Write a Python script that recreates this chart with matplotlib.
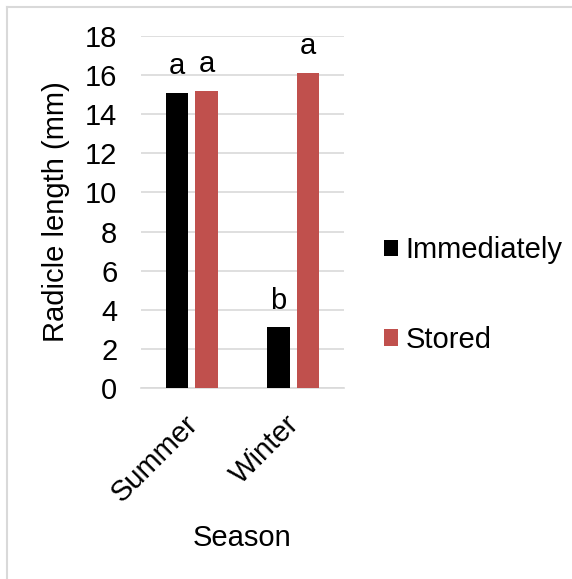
import matplotlib
matplotlib.use("Agg")
import matplotlib.pyplot as plt
import matplotlib.transforms as mtransforms
import numpy as np
from matplotlib.patches import Patch
from matplotlib.lines import Line2D

plt.rcParams['font.family'] = ['Liberation Sans', 'DejaVu Sans']

seasons = ["Summer", "Winter"]
series = ["Immediately", "Stored"]
immediately = [15.1, 3.1]
stored = [15.2, 16.1]
letters_immediately = ["a", "b"]
letters_stored = ["a", "a"]
colors = ["#000000", "#c0504d"]
yticks = [0, 2, 4, 6, 8, 10, 12, 14, 16, 18]

W, H = 572, 579
fig = plt.figure(figsize=(W / 100, H / 100), dpi=100)
ax = fig.add_axes([141 / W, 1 - 388 / H, (344 - 141) / W, (388 - 36) / H])

x = np.arange(len(seasons))
offset = 0.145
width = 0.22
fs = 21

for vals, letters, col, sign, name in [
    (immediately, letters_immediately, colors[0], -1, series[0]),
    (stored, letters_stored, colors[1], 1, series[1]),
]:
    bars = ax.bar(x + sign * offset, vals, width, color=col, label=name, zorder=3)
    for b, v, t in zip(bars, vals, letters):
        ax.annotate(t, (b.get_x() + b.get_width() / 2, v), xytext=(0, 13.5),
                    textcoords="offset points", ha="center", va="baseline",
                    fontsize=fs, color="black")

ax.set_xlim(-0.5, 1.5)
ax.set_ylim(0, 18)
ax.set_yticks(yticks)
ax.set_yticklabels([str(v) for v in yticks], fontsize=fs)
ax.yaxis.grid(True, color="#d9d9d9", linewidth=1.2, zorder=0)
ax.set_axisbelow(True)
for s in ["top", "right", "left"]:
    ax.spines[s].set_visible(False)
ax.spines["bottom"].set_color("#d9d9d9")
ax.spines["bottom"].set_linewidth(1.2)
ax.tick_params(axis="both", length=0)
ax.tick_params(axis="y", pad=17)
ax.set_xticks(x)
ax.set_xticklabels(seasons, fontsize=fs, rotation=45, ha="right",
                   rotation_mode="anchor")
ax.tick_params(axis="x", pad=16)
shift = mtransforms.ScaledTranslation(-8 / 100, 0, fig.dpi_scale_trans)
for lbl in ax.get_xticklabels():
    lbl.set_transform(lbl.get_transform() + shift)
ax.set_ylabel("Radicle length (mm)", fontsize=fs, labelpad=11)
ax.set_xlabel("Season", fontsize=fs, labelpad=12)

handles = [Patch(facecolor=colors[0], label=series[0]),
           Patch(facecolor=colors[1], label=series[1])]
fig.legend(handles=handles, loc="center left",
           bbox_to_anchor=(372 / W, 1 - 295 / H), frameon=False,
           fontsize=fs, handlelength=0.5, handleheight=0.5,
           handletextpad=0.25, labelspacing=2.1, borderaxespad=0)

# Outer frame (top and left edges)
fig.add_artist(Line2D([7 / W, 1], [1 - 7 / H, 1 - 7 / H], color="#d9d9d9",
                      linewidth=1.5, transform=fig.transFigure))
fig.add_artist(Line2D([7 / W, 7 / W], [0, 1 - 7 / H], color="#d9d9d9",
                      linewidth=1.5, transform=fig.transFigure))

fig.savefig("out.png", dpi=100)
